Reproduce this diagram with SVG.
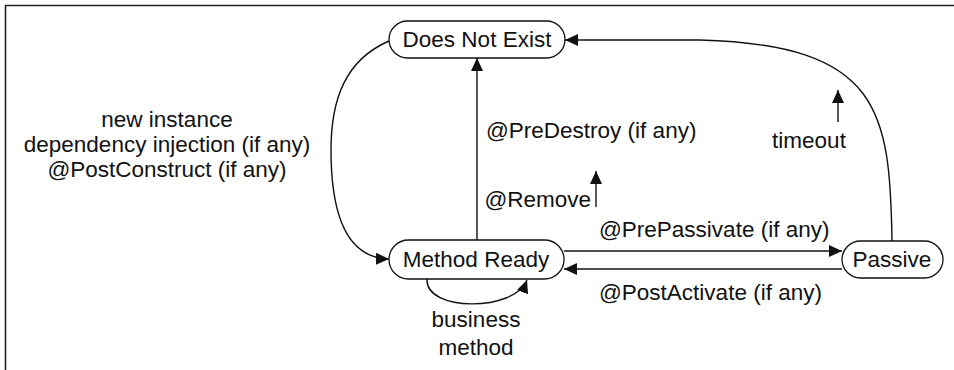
<svg xmlns="http://www.w3.org/2000/svg" width="954" height="370" viewBox="0 0 954 370">
  <style>
    .frame { fill: none; stroke: #222; stroke-width: 1.6; }
    .state rect { fill: #fff; stroke: #111; stroke-width: 1.3; }
    text { font-family: "Liberation Sans", Arial, sans-serif; font-size: 22.5px; fill: #111; }
    .mid { text-anchor: middle; }
    .end { text-anchor: end; }
    .edge { fill: none; stroke: #111; stroke-width: 1.4; }
  </style>
  <defs>
    <marker id="arrow" markerUnits="userSpaceOnUse" markerWidth="14" markerHeight="12" refX="13" refY="6" orient="auto">
      <path d="M0,0 L13,6 L0,12 z" fill="#111"/>
    </marker>
  </defs>

  <rect width="954" height="370" fill="#fff"/>
  <path class="frame" d="M5.5,370 L5.5,5.5 L954,5.5"/>

  <g id="connectors">
    <!-- creation: Does Not Exist -> Method Ready -->
    <path class="edge" marker-end="url(#arrow)" d="M389,41 C 345,60 331,100 331,150 C 331,210 345,258 389,259"/>
    <!-- removal: Method Ready -> Does Not Exist -->
    <path class="edge" marker-end="url(#arrow)" d="M477,240 L477,58"/>
    <!-- timeout: Passive -> Does Not Exist -->
    <path class="edge" marker-end="url(#arrow)" d="M892,241 C 890,110 880,45 700,40 L565,40"/>
    <!-- passivation / activation -->
    <path class="edge" marker-end="url(#arrow)" d="M564,251 L842,251"/>
    <path class="edge" marker-end="url(#arrow)" d="M842,269 L564,269"/>
    <!-- business method self loop -->
    <path class="edge" marker-end="url(#arrow)" d="M427,279 C 425,312 515,312 527,280"/>
    <!-- direction hints -->
    <path class="edge" marker-end="url(#arrow)" d="M838,122 L838,90"/>
    <path class="edge" marker-end="url(#arrow)" d="M596,207 L596,171"/>
  </g>

  <g id="does-not-exist" class="state">
    <rect x="389" y="21" width="176" height="37" rx="18.5"/>
    <text class="mid" x="477" y="47">Does Not Exist</text>
  </g>
  <g id="method-ready" class="state">
    <rect x="389" y="240" width="175" height="39" rx="19.5"/>
    <text class="mid" x="476" y="267">Method Ready</text>
  </g>
  <g id="passive" class="state">
    <rect x="842" y="241" width="101" height="37" rx="18.5"/>
    <text class="mid" x="892" y="267">Passive</text>
  </g>

  <g id="labels">
    <text class="mid" x="167" y="127">new instance</text>
    <text class="mid" x="167" y="152">dependency injection (if any)</text>
    <text class="mid" x="167" y="177">@PostConstruct (if any)</text>
    <text x="486" y="138">@PreDestroy (if any)</text>
    <text class="mid" x="809" y="148">timeout</text>
    <text class="end" x="591" y="207">@Remove</text>
    <text x="599" y="237">@PrePassivate (if any)</text>
    <text x="599" y="300">@PostActivate (if any)</text>
    <text class="mid" x="476" y="327">business</text>
    <text class="mid" x="476" y="355">method</text>
  </g>
</svg>
